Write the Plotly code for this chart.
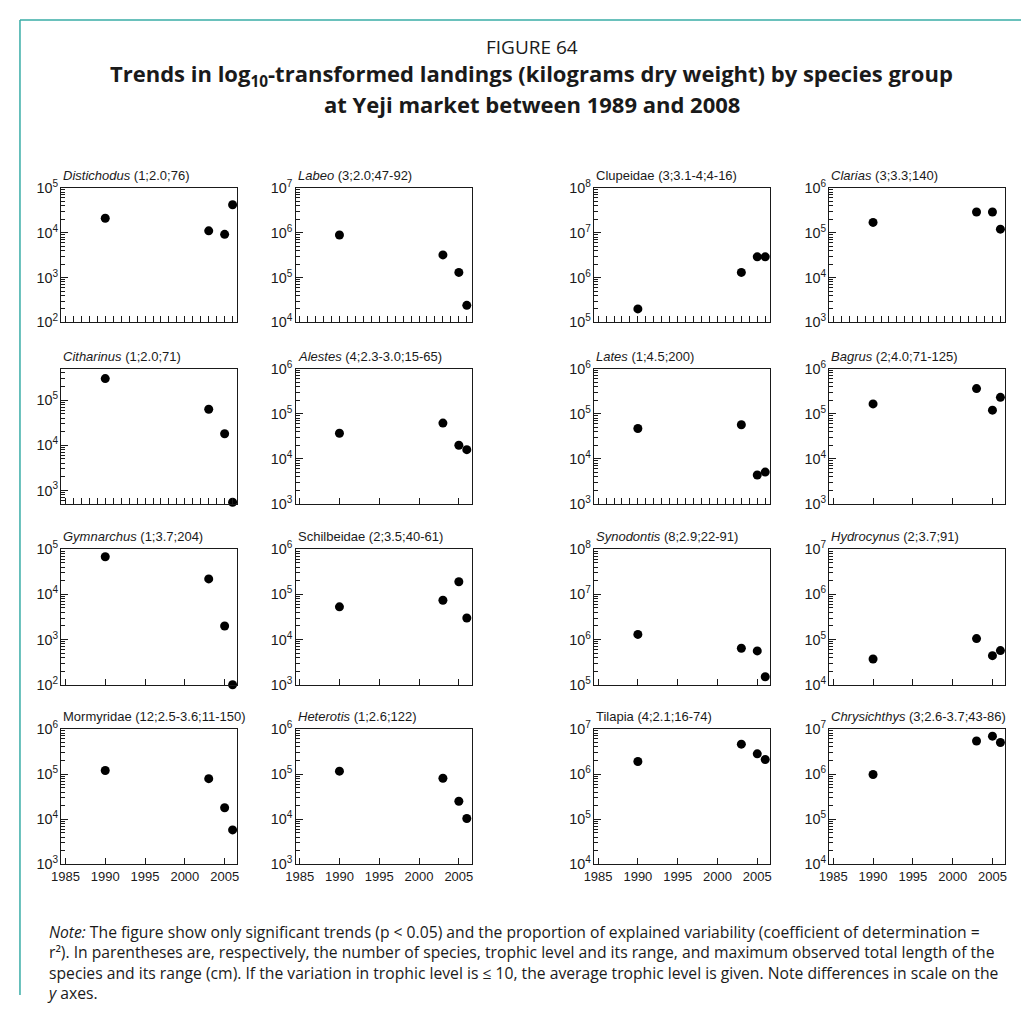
import plotly.graph_objects as go

# page body keeps its default 8px margin, so the figure is sized to fit inside it
OFF = 8
FW, FH = 1031 - 2 * OFF, 1011 - 2 * OFF


def px(x):
    return (x - OFF) / FW


def py(y):
    return 1 - (y - OFF) / FH


years = [1990, 2003, 2005, 2006]

titles = [
    "<i>Distichodus</i> (1;2.0;76)", "<i>Labeo</i> (3;2.0;47-92)",
    "Clupeidae (3;3.1-4;4-16)", "<i>Clarias</i> (3;3.3;140)",
    "<i>Citharinus</i> (1;2.0;71)", "<i>Alestes</i> (4;2.3-3.0;15-65)",
    "<i>Lates</i> (1;4.5;200)", "<i>Bagrus</i> (2;4.0;71-125)",
    "<i>Gymnarchus</i> (1;3.7;204)", "Schilbeidae (2;3.5;40-61)",
    "<i>Synodontis</i> (8;2.9;22-91)", "<i>Hydrocynus</i> (2;3.7;91)",
    "Mormyridae (12;2.5-3.6;11-150)", "<i>Heterotis</i> (1;2.6;122)",
    "Tilapia (4;2.1;16-74)", "<i>Chrysichthys</i> (3;2.6-3.7;43-86)",
]

distichodus = [2.1e4, 1.1e4, 9.2e3, 4.2e4]
labeo = [8.9e5, 3.2e5, 1.3e5, 2.4e4]
clupeidae = [2.0e5, 1.3e6, 2.9e6, 2.9e6]
clarias = [1.7e5, 2.9e5, 2.9e5, 1.2e5]
citharinus = [3.0e5, 6.3e4, 1.8e4, 550]
alestes = [3.7e4, 6.2e4, 2.0e4, 1.6e4]
lates = [4.7e4, 5.7e4, 4.4e3, 5.1e3]
bagrus = [1.65e5, 3.6e5, 1.2e5, 2.3e5]
gymnarchus = [6.8e4, 2.2e4, 2.0e3, 1.0e2]
schilbeidae = [5.3e4, 7.4e4, 1.9e5, 3.0e4]
synodontis = [1.3e6, 6.4e5, 5.6e5, 1.5e5]
hydrocynus = [3.7e4, 1.05e5, 4.4e4, 5.7e4]
mormyridae = [1.2e5, 7.9e4, 1.8e4, 5.8e3]
heterotis = [1.16e5, 8.1e4, 2.5e4, 1.04e4]
tilapia = [1.9e6, 4.6e6, 2.8e6, 2.1e6]
chrysichthys = [9.8e5, 5.4e6, 6.9e6, 5.0e6]

landings = [distichodus, labeo, clupeidae, clarias,
            citharinus, alestes, lates, bagrus,
            gymnarchus, schilbeidae, synodontis, hydrocynus,
            mormyridae, heterotis, tilapia, chrysichthys]

# log10 axis limits of each panel
y_ranges = [[2, 5], [4, 7], [5, 8], [3, 6],
            [2.7, 5.7], [3, 6], [3, 6], [3, 6],
            [2, 5], [3, 6], [5, 8], [4, 7],
            [3, 6], [3, 6], [4, 7], [4, 7]]

# panels whose x axis carries yearly minor ticks
minor_x = [0, 1, 2, 3, 4, 6]

# pixel boxes of the panels (window coordinates)
col_px = [(52, 230), (289, 467), (591, 769), (829, 1007)]
row_px = [(181, 318), (365, 503), (549, 687), (732, 870)]

INK = "#1a1a1a"
FONT = "Liberation Sans, Arial, sans-serif"
TFONT = "Open Sans, sans-serif"

fig = go.Figure()
layout = {}
annotations = []

for i, vals in enumerate(landings):
    r, c = divmod(i, 4)
    n = i + 1
    sx = "" if n == 1 else str(n)
    x0, x1 = col_px[c]
    y0, y1 = row_px[r]

    fig.add_trace(go.Scatter(
        x=years, y=vals, mode="markers",
        marker=dict(color="black", size=9),
        xaxis="x" + sx, yaxis="y" + sx,
        cliponaxis=False, showlegend=False))

    xa = dict(
        domain=[px(x0), px(x1)], anchor="y" + sx,
        range=[1984.5, 2006.6], tick0=1985, dtick=5,
        showline=True, mirror=True, linecolor=INK, linewidth=1,
        ticks="inside", ticklen=6, tickcolor=INK, tickwidth=1,
        showgrid=False, zeroline=False,
        showticklabels=(r == 3),
        tickfont=dict(family=FONT, size=13, color=INK),
    )
    if i in minor_x:
        xa["minor"] = dict(ticks="inside", ticklen=6, dtick=1, tick0=1985,
                           tickcolor=INK, tickwidth=1, showgrid=False)
    layout["xaxis" + sx] = xa

    layout["yaxis" + sx] = dict(
        domain=[py(y1), py(y0)], anchor="x" + sx,
        type="log", range=y_ranges[i], dtick=1,
        exponentformat="power",
        showline=True, mirror=True, linecolor=INK, linewidth=1,
        ticks="inside", ticklen=7, tickcolor=INK, tickwidth=1,
        minor=dict(ticks="inside", ticklen=4, dtick="D1",
                   tickcolor=INK, tickwidth=1, showgrid=False),
        showgrid=False, zeroline=False,
        tickfont=dict(family=FONT, size=11.5, color=INK),
    )

    annotations.append(dict(
        text=titles[i], x=px(x0), y=py(y0 - 3),
        xref="paper", yref="paper", xanchor="left", yanchor="bottom",
        showarrow=False, font=dict(family=FONT, size=13, color=INK)))

# second x axes only to draw the downward half of the crossing major ticks
for k, i in enumerate(minor_x):
    sx = "" if i == 0 else str(i + 1)
    layout["xaxis" + str(20 + k)] = dict(
        overlaying="x" + sx, anchor="y" + sx, side="bottom",
        range=[1984.5, 2006.6], tick0=1985, dtick=5,
        showline=False, ticks="outside", ticklen=6, tickcolor=INK,
        showticklabels=False, showgrid=False, zeroline=False)

heads = [
    ("FIGURE 64", 38, 19),
    ("<b>Trends in log<sub>10</sub>-transformed landings (kilograms dry weight) by species group</b>", 66.5, 22),
    ("<b>at Yeji market between 1989 and 2008</b>", 95.5, 22),
]
for text, yy, size in heads:
    annotations.append(dict(
        text=text, x=px(528), y=py(yy), xref="paper", yref="paper",
        xanchor="center", yanchor="middle", showarrow=False,
        font=dict(family=TFONT, size=size, color=INK)))

note_lines = [
    "<i>Note:</i> The figure show only significant trends (p &lt; 0.05) and the proportion of explained variability (coefficient of determination =",
    "r\u00b2). In parentheses are, respectively, the number of species, trophic level and its range, and maximum observed total length of the",
    "species and its range (cm). If the variation in trophic level is \u2264 10, the average trophic level is given. Note differences in scale on the",
    "<i>y</i> axes.",
]
# one block; line pitch is 1.3 x font size (about 20.4 px)
annotations.append(dict(
    text="<br>".join(note_lines), x=px(35), y=py(926),
    xref="paper", yref="paper", xanchor="left", yanchor="top", align="left",
    showarrow=False, font=dict(family=TFONT, size=15.7, color=INK)))

teal = "#38aca6"
shapes = [
    dict(type="line", xref="paper", yref="paper", x0=px(10), x1=1, y0=py(10), y1=py(10),
         line=dict(color=teal, width=1.5)),
    dict(type="line", xref="paper", yref="paper", x0=px(10), x1=px(10), y0=0, y1=py(10),
         line=dict(color=teal, width=1.5)),
]

fig.update_layout(
    width=FW, height=FH,
    margin=dict(l=0, r=0, t=0, b=0),
    paper_bgcolor="white", plot_bgcolor="white",
    annotations=annotations, shapes=shapes,
    **layout,
)

fig.write_html("out.html")
